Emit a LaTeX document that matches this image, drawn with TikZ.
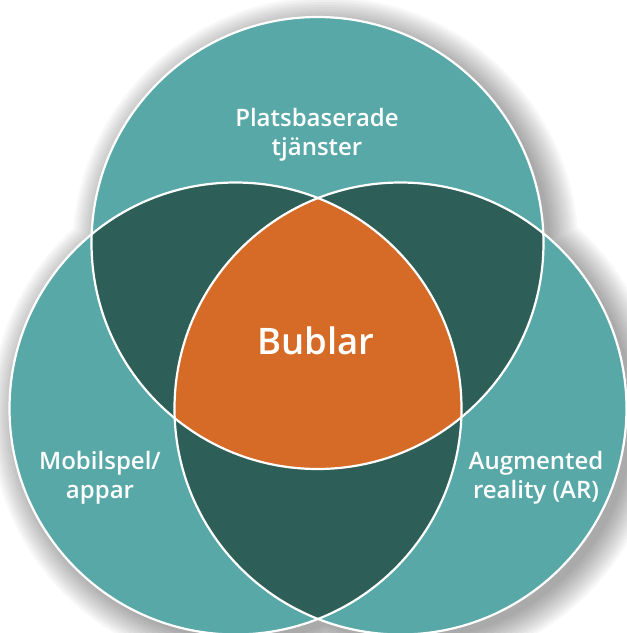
\documentclass[tikz,border=0pt]{standalone}
\usepackage{fontspec}
\setmainfont{Open Sans}
\IfFontExistsTF{Open Sans SemiBold}
  {\newfontfamily\semib{Open Sans SemiBold}}
  {\IfFontExistsTF{Open Sans Semibold}
    {\newfontfamily\semib{Open Sans Semibold}}
    {\newfontfamily\semib{Open Sans}[FakeBold=1.2]}}
\definecolor{tealc}{RGB}{88,168,167}
\definecolor{darkc}{RGB}{46,94,88}
\definecolor{orangec}{RGB}{214,107,40}
\tikzset{
  lbl/.style={text=white,font=\semib\fontsize{24}{29}\selectfont,align=center,inner sep=0pt},
  bigl/.style={text=white,font=\semib\fontsize{36.5}{44}\selectfont,inner sep=0pt},
  rim/.style={draw=white,line width=2.2pt}
}
\begin{document}
\begin{tikzpicture}[x=1pt,y=-1pt]
\useasboundingbox (0,0) rectangle (627,633);
\fill[white] (0,0) rectangle (627,633);
\coordinate (T) at (317.5,243);
\coordinate (L) at (235.5,408.5);
\coordinate (R) at (400.5,408.5);
% soft shadow
\foreach \k in {1,...,12}{
  \fill[black,opacity=0.03]
    ([shift={(8,7)}]T) circle[radius={223pt+2.5pt*\k}]
    ([shift={(8,7)}]L) circle[radius={223pt+2.5pt*\k}]
    ([shift={(8,7)}]R) circle[radius={223pt+2.5pt*\k}];
}
% base discs
\fill[tealc] (T) circle[radius=226pt] (L) circle[radius=226pt] (R) circle[radius=226pt];
% pairwise overlaps
\begin{scope}
  \clip (T) circle[radius=226pt];
  \fill[darkc] (L) circle[radius=226pt];
  \fill[darkc] (R) circle[radius=226pt];
\end{scope}
\begin{scope}
  \clip (L) circle[radius=226pt];
  \fill[darkc] (R) circle[radius=226pt];
\end{scope}
% triple overlap
\begin{scope}
  \clip (T) circle[radius=226pt];
  \clip (L) circle[radius=226pt];
  \fill[orangec] (R) circle[radius=226pt];
\end{scope}
% white rims
\path[rim] (T) circle[radius=226pt];
\path[rim] (L) circle[radius=226pt];
\path[rim] (R) circle[radius=226pt];
% labels
\node[lbl] (top) at (317,135) {Platsbaserade\\tjänster};
\node[lbl] (left) at (100,478) {Mobilspel/\\appar};
\node[lbl] (right) at (536,478) {Augmented\\reality (AR)};
\node[bigl,anchor=base] (mid) at (316,354) {Bublar};
\end{tikzpicture}
\end{document}
